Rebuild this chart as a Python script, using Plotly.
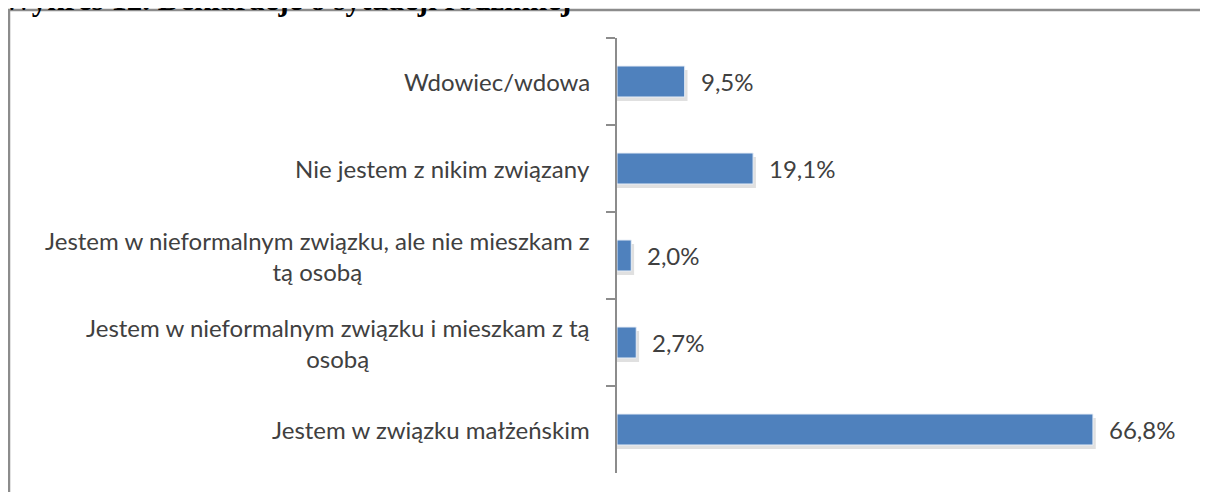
import plotly.graph_objects as go

categories = [
    "Wdowiec/wdowa",
    "Nie jestem z nikim związany",
    "Jestem w nieformalnym związku, ale nie mieszkam z<br>tą osobą",
    "Jestem w nieformalnym związku i mieszkam z tą<br>osobą",
    "Jestem w związku małżeńskim",
]
values = [9.5, 19.1, 2.0, 2.7, 66.8]
value_labels = ["9,5%", "19,1%", "2,0%", "2,7%", "66,8%"]
title_text = "Wykres 12. Deklaracje o sytuacji rodzinnej"

OFF = 8  # page body margin
W, H = 1208, 492
L, R, T, B = 617 - OFF, 1187 - OFF, 38 - OFF, 473 - OFF
XMAX = 80.0
BAR_W = 31 / 87
FONT = "Lato"
TXT = "#404040"

def px_x(p):
    return (p - OFF - L) / (R - L)

def px_y(p):
    return (B - (p - OFF)) / (B - T)

fig = go.Figure()

# soft shadow
fig.add_trace(go.Bar(
    y=categories, x=[v + 0.4 for v in values], orientation="h",
    marker=dict(color="rgba(0,0,0,0.12)", line=dict(width=0)),
    width=BAR_W, offset=-BAR_W / 2 + 4 / 87,
    hoverinfo="skip", showlegend=False,
))
fig.add_trace(go.Bar(
    y=categories, x=values, orientation="h",
    marker=dict(color="#4F81BD", line=dict(color="#e8eef7", width=1)),
    width=BAR_W, offset=-BAR_W / 2,
    showlegend=False,
))

annotations = []
for c, v, t in zip(categories, values, value_labels):
    annotations.append(dict(
        x=v, y=c, xref="x", yref="y", text=t, showarrow=False,
        xanchor="left", xshift=14, yanchor="middle",
        font=dict(family=FONT, size=24, color=TXT),
    ))
    annotations.append(dict(
        x=0, y=c, xref="x", yref="y", text=c, showarrow=False,
        xanchor="right", xshift=-25, yanchor="middle", align="center",
        font=dict(family=FONT, size=24, color=TXT),
    ))

annotations.append(dict(
    x=px_x(0), y=px_y(19.5), xref="paper", yref="paper", text="<b>" + title_text + "</b>",
    showarrow=False, xanchor="left", yanchor="bottom",
    font=dict(family="Liberation Serif", size=31, color="#000000"),
))

fig.update_layout(
    width=W, height=H,
    margin=dict(l=L, r=W - R, t=T, b=H - B, pad=0),
    paper_bgcolor="white", plot_bgcolor="white",
    barmode="overlay",
    xaxis=dict(range=[0, XMAX], visible=False, fixedrange=True),
    yaxis=dict(
        type="category", autorange="reversed", showticklabels=False,
        showline=True, linecolor="#8c8c8c", linewidth=1.5,
        ticks="outside", tickson="boundaries", ticklen=9, tickcolor="#8c8c8c",
        tickwidth=1.5, showgrid=False, zeroline=False,
    ),
    annotations=annotations,
    shapes=[dict(
        type="rect", xref="paper", yref="paper",
        x0=px_x(9), x1=px_x(1240), y0=px_y(10), y1=px_y(530),
        line=dict(color="#8c8c8c", width=2.5), fillcolor="rgba(0,0,0,0)", layer="below",
    )],
)

fig.write_html("out.html")
